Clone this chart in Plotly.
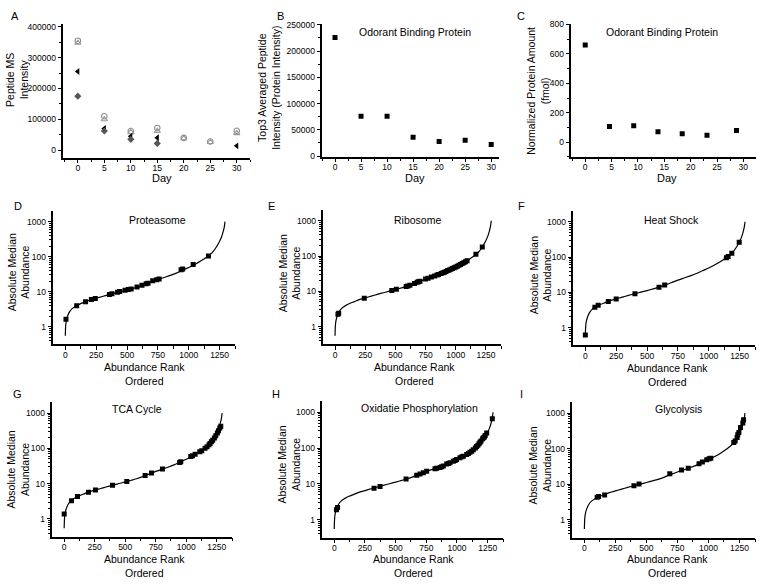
import plotly.graph_objects as go

W, H = 762, 585
FONT = "Liberation Sans, Arial, sans-serif"

# ---------------- data ----------------
days = [0, 5, 10, 15, 20, 25, 30]
a_open_circle = [355000, 110000, 62000, 72000, 40000, 28000, 63000]
a_open_triangle = [348000, 100000, 58000, 62000, 38000, 26000, 55000]
a_filled_left = [255000, 70000, 45000, 40000, None, None, 14000]
a_filled_diamond = [175000, 62000, 35000, 22000, None, None, None]

b_intensity = [226000, 76000, 76000, 36000, 28000, 30000, 22000]

c_days = [0, 4.6, 9.2, 13.8, 18.4, 23.1, 28.7]
c_amount = [660, 107, 112, 70, 58, 47, 80]

day_ticks = [0, 5, 10, 15, 20, 25, 30]
a_yticks = [0, 100000, 200000, 300000, 400000]
b_yticks = [0, 50000, 100000, 150000, 200000, 250000]
c_yticks = [0, 200, 400, 600, 800]
rank_ticks = [0, 250, 500, 750, 1000, 1250]
abund_ticks = [1, 10, 100, 1000]

# full proteome abundance rank curve
curve_rank = [0, 0, 3, 8, 20, 35, 55, 90, 120, 160, 200, 250, 300, 350, 400, 450,
              500, 550, 600, 650, 700, 750, 800, 850, 900, 950, 1000, 1050, 1100,
              1150, 1190, 1220, 1245, 1265, 1278, 1288, 1294]
curve_abund = [0.55, 0.6, 1.1, 1.5, 2.1, 2.7, 3.3, 4.0, 4.5, 5.1, 5.8, 6.5, 7.3, 8.2,
               9.1, 10.1, 11.2, 12.5, 14.0, 16.2, 19.0, 22.2, 25.5, 29.2, 34, 41, 49,
               60, 76, 100, 130, 180, 255, 360, 500, 700, 1000]

d_rank = [5, 92, 164, 211, 243, 357, 378, 423, 441, 484, 510, 534, 581, 621, 655,
          670, 708, 740, 760, 938, 951, 1036, 1160]
d_abund = [1.65, 4.0, 5.2, 6.0, 6.4, 8.3, 8.7, 9.7, 10.1, 11.0, 11.6, 12.0, 13.7,
           15.3, 16.8, 17.5, 20.5, 22.0, 23.0, 42.5, 44.5, 60, 104]

e_rank = [24, 30, 242, 470, 508, 589, 603, 620, 659, 680, 691, 704, 750, 771, 798,
          825, 845, 857, 879, 895, 906, 920, 933, 946, 960, 973, 987, 1000, 1013,
          1027, 1040, 1053, 1067, 1080, 1094, 1167, 1220]
e_abund = [2.25, 2.4, 6.4, 10.6, 11.4, 13.7, 14.1, 14.8, 16.7, 18.0, 18.7, 19.4,
           22.2, 23.5, 25.3, 27.3, 28.8, 29.8, 31.9, 33.5, 34.8, 36.7, 38.6, 40.4,
           42.5, 44.6, 46.8, 49, 51.6, 54.6, 57.8, 61, 65, 69, 74, 112, 180]

f_rank = [0, 77, 104, 186, 250, 402, 597, 643, 1143, 1157, 1187, 1247]
f_abund = [0.62, 3.8, 4.3, 5.5, 6.5, 9.1, 14.0, 16.0, 96, 104, 128, 262]

g_rank = [0, 60, 109, 199, 256, 396, 513, 663, 715, 805, 946, 955, 1037, 1051,
          1073, 1111, 1127, 1154, 1171, 1187, 1195, 1206, 1217, 1231, 1242, 1255,
          1264, 1275, 1283]
g_abund = [1.38, 3.3, 4.3, 5.7, 6.6, 9.0, 11.6, 17.0, 20.0, 25.9, 40, 42, 59, 62,
           68, 80, 86, 100, 112, 127, 138, 154, 170, 198, 228, 272, 318, 378, 420]

h_rank = [18, 27, 324, 373, 585, 672, 699, 726, 753, 821, 835, 862, 875, 889, 916,
          930, 943, 970, 985, 997, 1024, 1040, 1052, 1079, 1093, 1106, 1120, 1133,
          1150, 1160, 1170, 1180, 1188, 1196, 1209, 1215, 1223, 1230, 1242, 1288]
h_abund = [1.9, 2.2, 7.6, 8.5, 13.6, 17.5, 19.0, 20.5, 22.4, 26.5, 27.2, 28.8,
           30.2, 31.7, 35.6, 37.3, 39, 43, 45, 48, 54, 57, 59, 66, 71, 76, 82, 89,
           100, 110, 120, 131, 145, 158, 183, 195, 204, 225, 263, 660]

i_rank = [103, 114, 163, 399, 440, 688, 783, 837, 924, 951, 986, 1005, 1019, 1204,
          1215, 1231, 1236, 1245, 1258, 1277, 1283]
i_abund = [4.3, 4.5, 5.0, 9.1, 10.1, 19.6, 25, 28.3, 38, 42, 49, 52, 54, 149, 166,
           206, 245, 286, 395, 525, 650]

# ---------------- layout helpers ----------------
fig = go.Figure()


def dom_x(a, b):
    return [a / W, b / W]


def dom_y(top, bottom):
    return [1 - bottom / H, 1 - top / H]


axis_common = dict(showline=True, linecolor="black", linewidth=1.7, ticks="outside",
                   ticklen=3.5, tickwidth=1.2, tickcolor="black", showgrid=False,
                   zeroline=False, mirror=False,
                   tickfont=dict(family=FONT, size=8.5, color="black"))

# pixel boxes: (left, right, top, bottom)
boxes = {
    1: (63, 250, 20, 156),
    2: (322, 499, 20, 155),
    3: (571, 756, 20, 155),
    4: (53, 235, 210, 345),
    5: (323, 501, 209, 345),
    6: (573, 755, 210, 346),
    7: (52, 232, 404, 540),
    8: (322, 503, 403, 541),
    9: (572, 755, 404, 541),
}


def set_axes(n, xcfg, ycfg):
    l, r, t, b = boxes[n]
    sfx = "" if n == 1 else str(n)
    xa = dict(axis_common, domain=dom_x(l, r), anchor="y" + sfx, ticklabelstandoff=-2,
              **xcfg)
    ya = dict(axis_common, domain=dom_y(t, b), anchor="x" + sfx, **ycfg)
    fig.update_layout(**{"xaxis" + sfx: xa, "yaxis" + sfx: ya})
    return "x" + sfx, "y" + sfx


day_x = dict(range=[-2.8, 32.5], tickvals=day_ticks, ticktext=[str(v) for v in day_ticks],
             minor=dict(ticks="outside", ticklen=2.5, tickcolor="black", dtick=2.5, tick0=0))

# Panel A
xa, ya = set_axes(1, day_x, dict(range=[-25000, 410000], tickvals=a_yticks,
                                 ticktext=[str(v) for v in a_yticks],
                                 minor=dict(ticks="outside", ticklen=2.5, tickcolor="black",
                                            dtick=50000, tick0=0)))
fig.add_trace(go.Scatter(x=days, y=a_open_circle, mode="markers", xaxis=xa, yaxis=ya,
                         marker=dict(symbol="circle-open", size=5.5, color="#8a8a8a",
                                     line=dict(width=1.1))))
fig.add_trace(go.Scatter(x=days, y=a_open_triangle, mode="markers", xaxis=xa, yaxis=ya,
                         marker=dict(symbol="triangle-up-open", size=5.5, color="#9a9a9a",
                                     line=dict(width=1.1))))
fig.add_trace(go.Scatter(x=days, y=a_filled_left, mode="markers", xaxis=xa, yaxis=ya,
                         marker=dict(symbol="triangle-left", size=6, color="black")))
fig.add_trace(go.Scatter(x=days, y=a_filled_diamond, mode="markers", xaxis=xa, yaxis=ya,
                         marker=dict(symbol="diamond", size=5.5, color="#555555")))

# Panel B
xa, ya = set_axes(2, dict(day_x, range=[-2.5, 31.5]),
                  dict(range=[-1500, 252000], tickvals=b_yticks,
                       ticktext=[str(v) for v in b_yticks],
                       minor=dict(ticks="outside", ticklen=2.5, tickcolor="black",
                                  dtick=25000, tick0=0)))
fig.add_trace(go.Scatter(x=days, y=b_intensity, mode="markers", xaxis=xa, yaxis=ya,
                         marker=dict(symbol="square", size=5, color="black")))

# Panel C
xa, ya = set_axes(3, dict(day_x, range=[-2.7, 32.4]),
                  dict(range=[-100, 805], tickvals=c_yticks,
                       ticktext=[str(v) for v in c_yticks],
                       minor=dict(ticks="outside", ticklen=2.5, tickcolor="black",
                                  dtick=100, tick0=0)))
fig.add_trace(go.Scatter(x=c_days, y=c_amount, mode="markers", xaxis=xa, yaxis=ya,
                         marker=dict(symbol="square", size=5, color="black")))

# Panels D-I
rank_x = dict(range=[-100, 1375], tickvals=rank_ticks, ticktext=[str(v) for v in rank_ticks],
              minor=dict(ticks="outside", ticklen=2.5, tickcolor="black", dtick=125, tick0=0))
log_y = dict(type="log", range=[-0.5, 3.3], tickvals=abund_ticks,
             ticktext=[str(v) for v in abund_ticks],
             minor=dict(ticks="outside", ticklen=2, tickcolor="black", dtick="D1"))

marker_sets = {4: (d_rank, d_abund), 5: (e_rank, e_abund), 6: (f_rank, f_abund),
               7: (g_rank, g_abund), 8: (h_rank, h_abund), 9: (i_rank, i_abund)}
for n, (rk, ab) in marker_sets.items():
    xa, ya = set_axes(n, rank_x, log_y)
    fig.add_trace(go.Scatter(x=curve_rank, y=curve_abund, mode="lines", xaxis=xa, yaxis=ya,
                             line=dict(color="black", width=1.2, shape="spline",
                                       smoothing=0.6)))
    fig.add_trace(go.Scatter(x=rk, y=ab, mode="markers", xaxis=xa, yaxis=ya,
                             marker=dict(symbol="square", size=5, color="black")))

# ---------------- text ----------------
def note(text, x, y, size=10.5, angle=0):
    fig.add_annotation(text=text, x=x / W, y=1 - y / H, xref="paper", yref="paper",
                       showarrow=False, xanchor="center", yanchor="middle",
                       textangle=angle, font=dict(family=FONT, size=size, color="black"))


letters = [("A", 15, 12), ("B", 280, 12), ("C", 521, 12), ("D", 18, 205), ("E", 271, 205),
           ("F", 521, 205), ("G", 17, 395), ("H", 276, 395), ("I", 521, 395)]
for t, x, y in letters:
    note(t, x, y, size=11)

titles = [("Odorant Binding Protein", 415, 28), ("Odorant Binding Protein", 662, 28),
          ("Proteasome", 157, 219), ("Ribosome", 417, 219), ("Heat Shock", 671, 219),
          ("TCA Cycle", 137, 411), ("Oxidatie Phosphorylation", 419, 410),
          ("Glycolysis", 678, 411)]
for t, x, y in titles:
    note(t, x, y, size=10.5)

for x in (162, 415, 667):
    note("Day", x, 176, size=11)
for x, y in ((144, 375), (415, 375), (667, 376), (144, 570), (413, 570), (667, 570)):
    note("Abundance Rank<br>Ordered", x, y, size=10.5)

ytitles = [("Peptide MS<br>Intensity", 17, 77),
           ("Top3 Averaged Peptide<br>Intensity (Protein Intensity)", 269, 85),
           ("Normalized Protein Amount<br>(fmol)", 538, 88),
           ("Absolute Median<br>Abundance", 19, 272),
           ("Absolute Median<br>Abundance", 290, 273),
           ("Absolute Median<br>Abundance", 541, 275),
           ("Absolute Median<br>Abundance", 18, 472),
           ("Absolute Median<br>Abundance", 289, 467),
           ("Absolute Median<br>Abundance", 540, 468)]
for t, x, y in ytitles:
    note(t, x, y, size=10.5, angle=-90)

fig.update_layout(width=W, height=H, margin=dict(l=0, r=0, t=0, b=0),
                  paper_bgcolor="white", plot_bgcolor="white", showlegend=False,
                  font=dict(family=FONT, color="black"))

fig.write_html("out.html", config={"displayModeBar": False},
               post_script="document.body.style.margin='0';document.body.style.overflow='hidden';")
